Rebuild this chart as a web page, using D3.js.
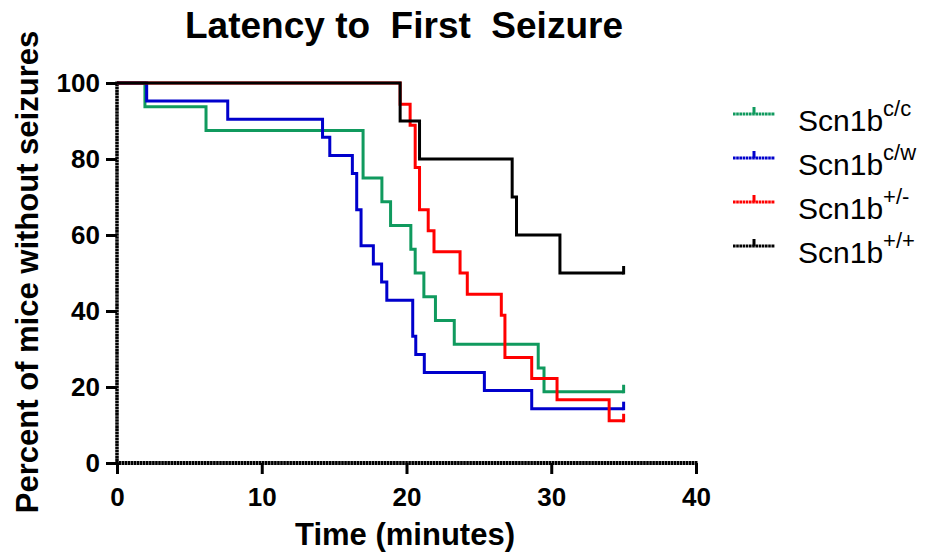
<!DOCTYPE html>
<html>
<head>
<meta charset="utf-8">
<script src="https://cdn.jsdelivr.net/npm/d3@7"></script>
<style>
  html, body { margin: 0; padding: 0; background: #fff; }
  svg { display: block; }
  text { font-family: "Liberation Sans", Arial, sans-serif; }
</style>
</head>
<body>
<svg id="chart" width="928" height="555"></svg>
<script>
// Kaplan–Meier style survival steps: time (minutes) and percent without seizures
const ccTime   = [0, 1.93, 6.15, 17.0, 18.3, 18.9, 20.3, 20.6, 21.2, 22.0, 23.3, 29.1, 29.5, 35];
const ccPct    = [100, 93.75, 87.5, 75, 68.75, 62.5, 56.25, 50, 43.75, 37.5, 31.25, 25, 18.75, 18.75];

const cwTime   = [0, 2.05, 7.65, 14.2, 14.7, 16.26, 16.56, 16.86, 17.71, 18.28, 18.64, 20.43, 20.64, 21.23, 25.38, 28.65, 35];
const cwPct    = [100, 95.24, 90.48, 85.71, 80.95, 76.19, 66.67, 57.14, 52.38, 47.62, 42.86, 33.33, 28.57, 23.81, 19.05, 14.29, 14.29];

const hetTime  = [0, 19.56, 20.25, 20.6, 20.9, 21.5, 21.9, 23.7, 24.2, 26.55, 26.8, 28.65, 30.4, 34.0, 35];
const hetPct   = [100, 94.44, 88.89, 77.78, 66.67, 61.11, 55.56, 50, 44.44, 38.89, 27.78, 22.22, 16.67, 11.11, 11.11];

const wtTime   = [0, 19.56, 20.9, 27.3, 27.6, 30.6, 35];
const wtPct    = [100, 90, 80, 70, 60, 50, 50];

const seriesNames = ["c/c", "c/w", "+/-", "+/+"];
const seriesColors = ["#109a5e", "#0000cc", "#ff0000", "#000000"];

const xTicks = [0, 10, 20, 30, 40];
const yTicks = [0, 20, 40, 60, 80, 100];

const series = [
  { name: seriesNames[0], color: seriesColors[0], t: ccTime,  p: ccPct },
  { name: seriesNames[1], color: seriesColors[1], t: cwTime,  p: cwPct },
  { name: seriesNames[2], color: seriesColors[2], t: hetTime, p: hetPct },
  { name: seriesNames[3], color: seriesColors[3], t: wtTime,  p: wtPct }
];

const svg = d3.select("#chart");

const x = d3.scaleLinear().domain([0, 40]).range([117, 696]);
const y = d3.scaleLinear().domain([0, 100]).range([463, 83]);

// Title
svg.append("text")
  .attr("x", 404).attr("y", 38)
  .attr("text-anchor", "middle")
  .attr("font-size", 37).attr("font-weight", "bold")
  .attr("xml:space", "preserve")
  .style("white-space", "pre")
  .text("Latency to  First  Seizure");

// Axes
const axisDash = "2.6,0.45";

const gx = svg.append("g").attr("transform", `translate(0,${y(0)})`)
  .call(d3.axisBottom(x).tickValues(xTicks).tickSize(11).tickPadding(14).tickFormat(d3.format("d")));
const gy = svg.append("g").attr("transform", `translate(${x(0)},0)`)
  .call(d3.axisLeft(y).tickValues(yTicks).tickSize(11).tickPadding(6).tickFormat(d3.format("d")));

[gx, gy].forEach(g => {
  g.select(".domain").remove();
  g.selectAll(".tick line").attr("stroke", "#000").attr("stroke-width", 3);
  g.selectAll(".tick text")
    .attr("fill", "#000")
    .attr("font-size", 26).attr("font-weight", "bold")
    .attr("font-family", "Liberation Sans, Arial, sans-serif");
});

// Axis lines with fine hatching
svg.append("line")
  .attr("x1", x(0) - 1.5).attr("x2", x(40) + 1.5)
  .attr("y1", y(0)).attr("y2", y(0))
  .attr("stroke", "#000").attr("stroke-width", 4)
  .attr("stroke-dasharray", axisDash);
svg.append("line")
  .attr("x1", x(0)).attr("x2", x(0))
  .attr("y1", y(0) + 1.5).attr("y2", y(100) - 1.5)
  .attr("stroke", "#000").attr("stroke-width", 3.5)
  .attr("stroke-dasharray", axisDash);

// Axis titles
svg.append("text")
  .attr("x", 405).attr("y", 545)
  .attr("text-anchor", "middle")
  .attr("font-size", 31).attr("font-weight", "bold")
  .text("Time (minutes)");

svg.append("text")
  .attr("transform", "translate(38,272) rotate(-90)")
  .attr("text-anchor", "middle")
  .attr("font-size", 31).attr("font-weight", "bold")
  .text("Percent of mice without seizures");

// Survival step curves
const line = d3.line()
  .x(d => x(d[0]))
  .y(d => y(d[1]))
  .curve(d3.curveStepAfter);

const plot = svg.append("g");
series.forEach(s => {
  const pts = s.t.map((t, i) => [t, s.p[i]]);
  plot.append("path")
    .datum(pts)
    .attr("d", line)
    .attr("fill", "none")
    .attr("stroke", s.color)
    .attr("stroke-width", 3)
    .attr("stroke-linejoin", "miter");
  // censored tick at the last observation
  const last = pts[pts.length - 1];
  plot.append("line")
    .attr("x1", x(last[0])).attr("x2", x(last[0]))
    .attr("y1", y(last[1]) + 1.5).attr("y2", y(last[1]) - 7)
    .attr("stroke", s.color).attr("stroke-width", 3);
});

// Legend
const legend = svg.append("g");
series.forEach((s, i) => {
  const ly = 114 + i * 44;
  legend.append("line")
    .attr("x1", 733).attr("x2", 775)
    .attr("y1", ly).attr("y2", ly)
    .attr("stroke", s.color).attr("stroke-width", 3)
    .attr("stroke-dasharray", "2.6,0.6");
  legend.append("line")
    .attr("x1", 754).attr("x2", 754)
    .attr("y1", ly).attr("y2", ly - 7)
    .attr("stroke", s.color).attr("stroke-width", 3);
  const t = legend.append("text")
    .attr("x", 798).attr("y", ly + 17)
    .attr("font-size", 30);
  t.append("tspan").text("Scn1b");
  t.append("tspan").attr("font-size", 22).attr("dy", -15).text(s.name);
});
</script>
</body>
</html>
